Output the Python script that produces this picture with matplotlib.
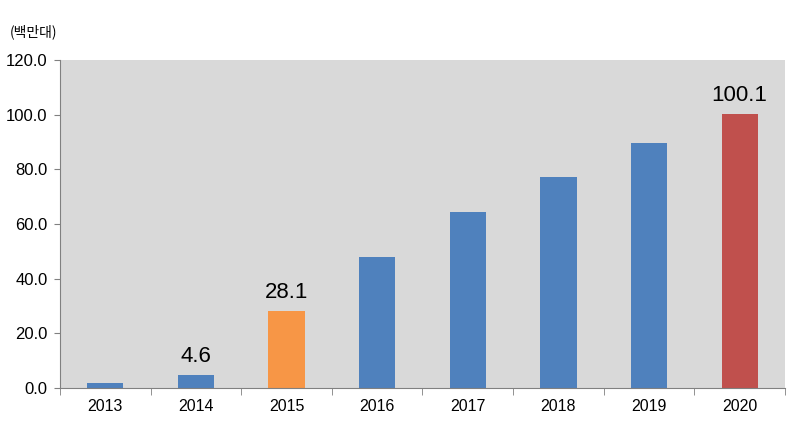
import matplotlib
matplotlib.use("Agg")
import matplotlib.pyplot as plt
import numpy as np

years = ["2013", "2014", "2015", "2016", "2017", "2018", "2019", "2020"]
values = [1.8, 4.6, 28.1, 47.9, 64.5, 77.3, 89.6, 100.1]
colors = ["#4F81BD", "#4F81BD", "#F79646", "#4F81BD", "#4F81BD", "#4F81BD", "#4F81BD", "#C0504D"]
labeled = {1: "4.6", 2: "28.1", 7: "100.1"}
yticks = [0, 20, 40, 60, 80, 100, 120]

plt.rcParams['font.family'] = ['Liberation Sans', 'Noto Sans CJK KR', 'DejaVu Sans']

fig = plt.figure(figsize=(8.03, 4.28), dpi=100)
ax = fig.add_axes([60/803, 40/428, 725/803, 328/428])
ax.set_facecolor("#D9D9D9")

x = np.arange(len(years))
ax.bar(x, values, width=0.4, color=colors, zorder=2)
for i, t in labeled.items():
    ax.text(x[i], values[i] + 3, t, ha="center", va="bottom", fontsize=16)

ax.set_xlim(-0.5, len(years) - 0.5)
ax.set_ylim(0, 120)
ax.set_yticks(yticks)
ax.set_yticklabels([f"{v:.1f}" for v in yticks], fontsize=12)
ax.set_xticks(x)
ax.set_xticklabels(years, fontsize=11.5)
ax.tick_params(axis="x", length=0, pad=8)
ax.set_xticks(np.arange(-0.5, len(years) + 0.5, 1), minor=True)
ax.tick_params(axis="x", which="minor", length=5, color="#808080")
ax.tick_params(axis="y", length=4, color="#808080", pad=5)
for s in ["top", "right"]:
    ax.spines[s].set_visible(False)
for s in ["left", "bottom"]:
    ax.spines[s].set_color("#808080")

fig.text(10/803, 1 - 32/428, "(백만대)", fontsize=10, ha="left", va="center",
         family=['Noto Sans CJK KR', 'DejaVu Sans'])

fig.savefig("out.png", dpi=100)
